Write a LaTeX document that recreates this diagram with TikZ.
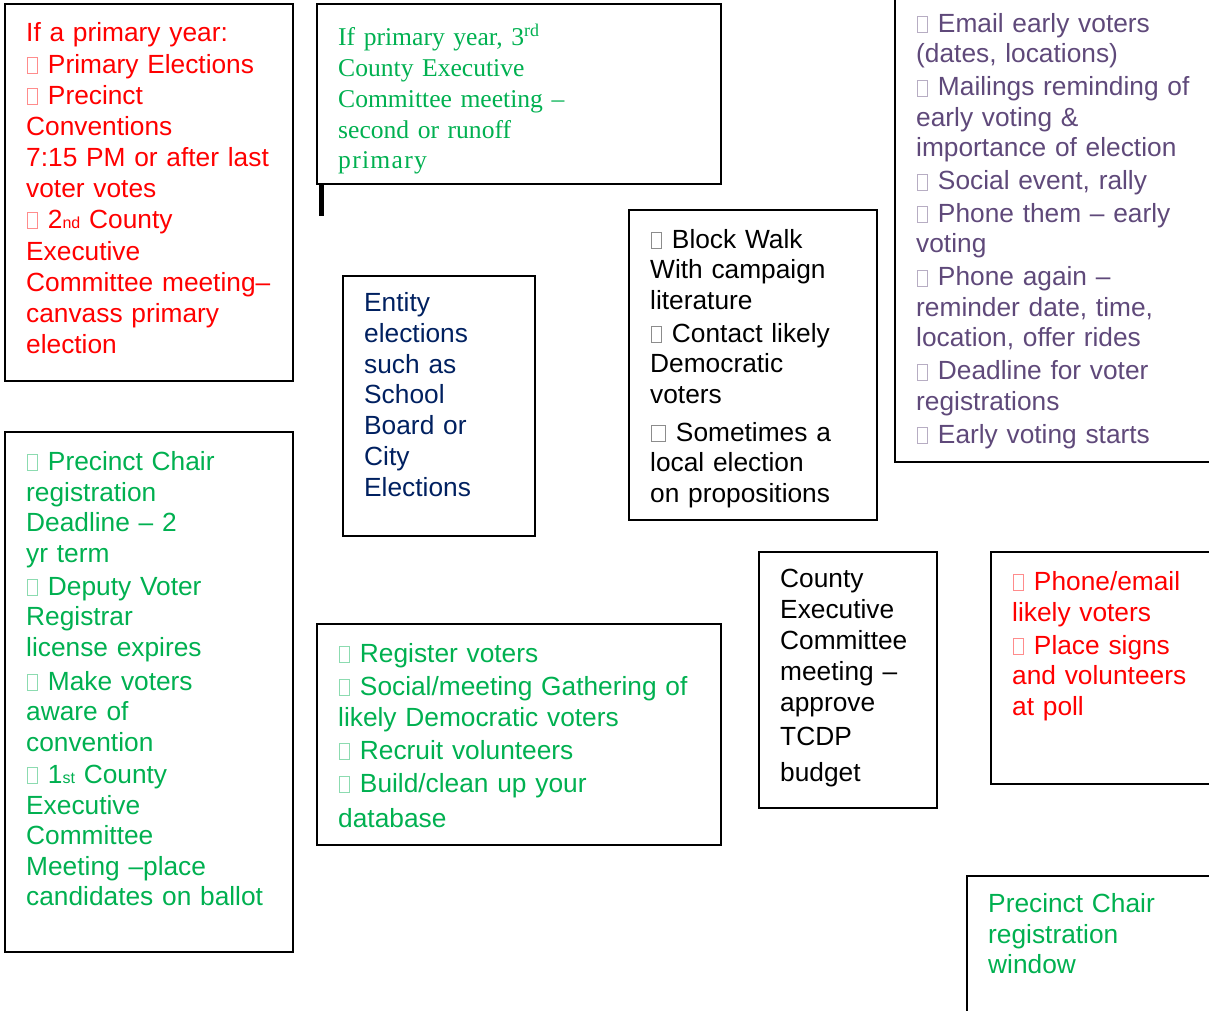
\documentclass[tikz,border=0pt]{standalone}
\usepackage{fontspec}
\setmainfont{Liberation Sans}
\newfontfamily\tnr{Liberation Serif}
\definecolor{cred}{HTML}{FF0000}
\definecolor{cgreen}{HTML}{00B050}
\definecolor{cpurple}{HTML}{5F497A}
\definecolor{cblue}{HTML}{002060}
\newcommand{\cbx}[2][10]{\makebox[\dimexpr#1pt+3pt\relax][l]{\hspace{1pt}\tikz[x=1pt,y=1pt,baseline=0pt]\draw[line width=0.8pt,draw=#2!45] (0,0) rectangle (#1,16);}\ }
\newcommand{\smallsub}[1]{{\fontsize{16}{16}\selectfont #1}}
\begin{document}
\begin{tikzpicture}[x=1pt,y=-1pt,
  box/.style={draw=black,line width=2.5pt},
  txt/.style={anchor=base west,inner sep=0pt,text width=420pt,align=left,font=\fontsize{26.3}{30.5}\selectfont}]
\useasboundingbox (0,0) rectangle (1209,1011);
\clip (0,0) rectangle (1209,1011);
% boxes
\draw[box] (5,4) rectangle (293,381);
\draw[box] (317,4) rectangle (721,184);
\fill[black] (319,184) rectangle (324,216);
\draw[box] (895,-10) rectangle (1225,462);
\draw[box] (629,210) rectangle (877,520);
\draw[box] (343,276) rectangle (535,536);
\draw[box] (5,432) rectangle (293,952);
\draw[box] (317,624) rectangle (721,845);
\draw[box] (759,552) rectangle (937,808);
\draw[box] (991,552) rectangle (1225,784);
\draw[box] (967,876) rectangle (1225,1025);
% texts
\node[txt,text=cred,font=\fontsize{26.3}{31.15}\selectfont] (t1) at (26,42) {If a primary year:\\ \cbx{cred}Primary Elections\\ \cbx{cred}Precinct\\ Conventions\\ 7:15 PM or after last\\ voter votes\\ \cbx{cred}2\smallsub{nd} County\\ Executive\\ Committee meeting–\\ canvass primary\\ election};
\node[txt,text=cgreen,font=\tnr\fontsize{25.6}{30.75}\selectfont] (t2) at (338,46) {If primary year, 3\textsuperscript{rd}\\ County Executive\\ Committee meeting –\\ second or runoff\\ {\addfontfeature{LetterSpace=5}primary}};
\node[txt,text=cpurple] (t3) at (916,32.5) {\cbx{cpurple}Email early voters\\ (dates, locations)\\[2.5pt] \cbx{cpurple}Mailings reminding of\\ early voting \&\\ importance of election\\[2.5pt] \cbx{cpurple}Social event, rally\\[2pt] \cbx{cpurple}Phone them – early\\ voting\\[2.5pt] \cbx{cpurple}Phone again –\\ reminder date, time,\\ location, offer rides\\[2.5pt] \cbx{cpurple}Deadline for voter\\ registrations\\[2.5pt] \cbx{cpurple}Early voting starts};
\node[txt,text=black] (t4) at (650,248) {\cbx{black}Block Walk\\ With campaign\\ literature\\[2.5pt] \cbx{black}Contact likely\\ Democratic\\ voters\\[7.5pt] \cbx[14]{black}Sometimes a\\ local election\\ on propositions};
\node[txt,text=cblue,font=\fontsize{26.3}{30.8}\selectfont] (t5) at (364,311.5) {Entity\\ elections\\ such as\\ School\\ Board or\\ City\\ Elections};
\node[txt,text=cgreen] (t6) at (26,470.5) {\cbx{cgreen}Precinct Chair\\ registration\\ Deadline – 2\\ yr term\\[2.5pt] \cbx{cgreen}Deputy Voter\\ Registrar\\ license expires\\[3.5pt] \cbx{cgreen}Make voters\\ aware of\\ convention\\[2pt] \cbx{cgreen}1\smallsub{st} County\\ Executive\\ Committee\\ Meeting –place\\ candidates on ballot};
\node[txt,text=cgreen] (t7) at (338,662.5) {\cbx{cgreen}Register voters\\[2.5pt] \cbx{cgreen}Social/meeting Gathering of\\ likely Democratic voters\\[2.5pt] \cbx{cgreen}Recruit volunteers\\[2.5pt] \cbx{cgreen}Build/clean up your\\[4.5pt] database};
\node[txt,text=black,font=\fontsize{26.3}{31}\selectfont] (t8) at (780,587.5) {County\\ Executive\\ Committee\\ meeting –\\ approve\\[3pt] TCDP\\[5pt] budget};
\node[txt,text=cred] (t9) at (1012,590.5) {\cbx{cred}Phone/email\\ likely voters\\[2.5pt] \cbx{cred}Place signs\\ and volunteers\\ at poll};
\node[txt,text=cgreen] (t10) at (988,912.5) {Precinct Chair\\ registration\\ window};
\end{tikzpicture}
\end{document}
